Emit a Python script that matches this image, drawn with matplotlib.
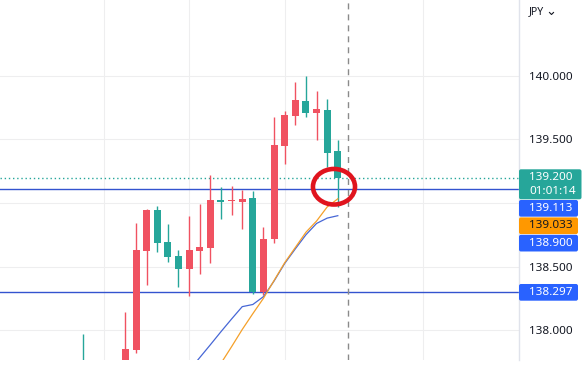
import math
import matplotlib.pyplot as plt
import matplotlib.transforms as mtransforms
from matplotlib.patches import Ellipse, FancyBboxPatch
from matplotlib.lines import Line2D

nan = math.nan

# ================= DATA =================
# candles (one per bar, left to right); the first few sit below the visible range
opens  = [137.72, 137.55, 137.60, 137.56, 137.70, 137.843, 138.624, 138.945, 138.695, 138.583,
          138.483, 138.624, 138.646, 139.021, 139.012, 139.010, 139.039, 138.297, 138.717, 139.451,
          139.687, 139.803, 139.706, 139.732, 139.412]
highs  = [137.969, 137.68, 137.72, 137.70, 138.140, 138.846, 138.953, 138.976, 138.835, 138.630,
          138.898, 138.992, 139.220, 139.124, 139.134, 139.102, 139.098, 138.813, 139.680, 139.727,
          139.955, 140.002, 139.878, 139.817, 139.496]
lows   = [137.50, 137.42, 137.50, 137.48, 137.68, 137.819, 138.358, 138.617, 138.538, 138.341,
          138.270, 138.441, 138.525, 138.874, 138.906, 138.795, 138.281, 138.276, 138.685, 139.305,
          139.614, 139.680, 139.496, 139.286, 138.971]
closes = [137.55, 137.60, 137.56, 137.66, 137.850, 138.630, 138.945, 138.687, 138.577, 138.483,
          138.630, 138.654, 139.024, 139.010, 139.017, 139.031, 138.297, 138.717, 139.457, 139.693,
          139.811, 139.711, 139.738, 139.396, 139.200]

# moving averages
ma_orange = [nan] * 12 + [137.60, 137.738, 137.869, 138.004, 138.129, 138.250, 138.390, 138.530,
                          138.650, 138.770, 138.858, 138.969, 139.033]
ma_blue = [nan] * 9 + [137.58, 137.68, 137.783, 137.884, 137.987, 138.087, 138.184, 138.201,
                       138.263, 138.386, 138.524, 138.639, 138.750, 138.839, 138.881, 138.900]

level_lines = [139.113, 138.297]
last_price = 139.200
countdown = "01:01:14"

price_ticks = [138.0, 138.5, 139.0, 139.5, 140.0]
price_tick_labels = ["138.000", "138.500", "", "139.500", "140.000"]
time_grid = [2, 10, 19, 32]

# right-axis tags: value, box colour, text colour
tags = [(139.113, "#2962ff", "white"),
        (139.033, "#ff9800", "#131722"),
        (138.900, "#2962ff", "white"),
        (138.297, "#2962ff", "white")]

UP = "#f05261"
DOWN = "#26a69a"
FONT = "Noto Sans"

# ================= PLOT =================
fig = plt.figure(figsize=(5.88, 3.75), dpi=100)
ax = fig.add_axes([0, 15 / 375, 519 / 588, 360 / 375])

ax.set_xlim(-7.806, 41.06)
ax.set_ylim(137.764, 140.598)

# grid
ax.set_yticks(price_ticks)
ax.set_yticklabels(price_tick_labels, fontsize=8.4, color="#131722", family=FONT)
ax.set_xticks(time_grid)
ax.set_xticklabels([])
ax.yaxis.tick_right()
ax.tick_params(axis="both", length=0)
ax.tick_params(axis="y", pad=7.5)
ax.grid(True, color="#eeeeef", linewidth=0.8)
ax.set_axisbelow(True)

for s in ["top", "left", "bottom"]:
    ax.spines[s].set_visible(False)
ax.spines["right"].set_color("#e0e3eb")
ax.spines["right"].set_linewidth(1)

# candles
idx = list(range(len(opens)))
colors = [UP if c >= o else DOWN for o, c in zip(opens, closes)]
bottoms = [min(o, c) for o, c in zip(opens, closes)]
heights = [max(abs(c - o), 0.012) for o, c in zip(opens, closes)]
ax.vlines(idx, lows, highs, colors=colors, linewidth=1.0, zorder=3)
ax.bar(idx, heights, bottom=bottoms, width=0.66, color=colors, linewidth=0, zorder=4)

# moving averages
ax.plot(idx, ma_blue, color="#4767d6", linewidth=0.9, zorder=5)
ax.plot(idx, ma_orange, color="#f5a029", linewidth=0.9, zorder=5)

# horizontal levels
for lv in level_lines:
    ax.axhline(lv, color="#3353cf", linewidth=1.0, zorder=2)
ax.axhline(last_price, color=DOWN, linewidth=1.0, linestyle=(0, (1, 2)), zorder=2)

# crosshair
ax.axvline(len(opens), color="#8a8a8a", linewidth=1.0, linestyle=(0, (4.3, 3.6)), zorder=2)

# red circle
ax.add_patch(Ellipse((23.64, 139.128), width=3.96, height=0.28, fill=False,
                     edgecolor="#e0141e", linewidth=3.3, zorder=6))

# ================= PRICE TAGS =================
px = mtransforms.IdentityTransform()
H = 375


def img_y(price):
    return H - ax.transData.transform((0, price))[1]


def tag(top, height, width, color):
    fig.add_artist(FancyBboxPatch((519, H - top - height), width, height,
                                  boxstyle="round,pad=0,rounding_size=2",
                                  facecolor=color, edgecolor="none", transform=px))


# last price + countdown
y0 = img_y(last_price)
top = y0 - 8.3
tag(top, 30, 62.5, DOWN)
fig.text(529.5, H - y0, f"{last_price:.3f}", color="white", fontsize=8.4, family=FONT,
         va="center", ha="left", transform=px)
fig.text(529.5, H - (y0 + 13.8), countdown, color="white", fontsize=8.4, family=FONT,
         va="center", ha="left", transform=px)
prev_bottom = top + 30

for val, col, tcol in tags:
    t = max(img_y(val) - 8.3, prev_bottom + 0.7)
    tag(t, 16.7, 59, col)
    fig.text(529.5, H - (t + 8.6), f"{val:.3f}", color=tcol, fontsize=8.4, family=FONT,
             va="center", ha="left", transform=px)
    prev_bottom = t + 16.7

# currency header
fig.text(529, H - 12, "JPY", color="#131722", fontsize=7.6, family=FONT,
         va="center", ha="left", transform=px)
fig.add_artist(Line2D([549.5, 551.5, 553.5], [H - 12.5, H - 14.5, H - 12.5],
                      color="#131722", linewidth=0.8, transform=px))

fig.savefig("out.png", dpi=100)
